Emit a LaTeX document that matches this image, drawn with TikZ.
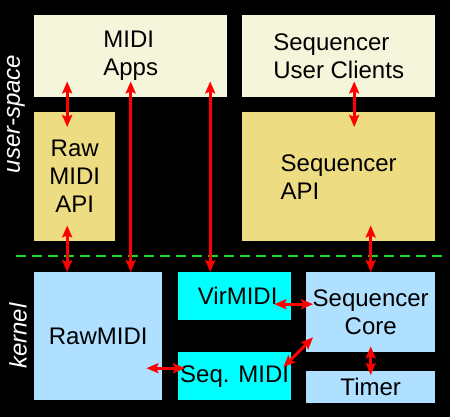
\documentclass[tikz,border=0pt]{standalone}
\usepackage{fontspec}
\setmainfont{Liberation Sans}
\usepackage{tikz}
\usetikzlibrary{arrows.meta}
\usetikzlibrary{positioning}

\definecolor{appcol}{RGB}{245,245,220}
\definecolor{apicol}{RGB}{238,220,130}
\definecolor{kerncol}{RGB}{176,224,255}
\definecolor{virtcol}{RGB}{0,255,255}
\definecolor{bordercol}{RGB}{30,220,30}

\begin{document}
\begin{tikzpicture}[x=1pt,y=-1pt,
                    box node/.style={rectangle,inner sep=0pt,anchor=north west,
                      font=\fontsize{24}{28}\selectfont},
                    link/.style={red,line width=3pt,
                      {Stealth[length=12pt,width=10pt,inset=2pt]}-{Stealth[length=12pt,width=10pt,inset=2pt]}},
                    side label/.style={white,rotate=90,font=\fontsize{24}{28}\selectfont\itshape}]

  \fill[black] (0,0) rectangle (450,417);

  % user-space
  \node[box node,fill=appcol,minimum width=193pt,minimum height=82pt,align=left] (apps) at (34,15) {MIDI\\Apps};
  \node[box node,fill=appcol,minimum width=193pt,minimum height=82pt,align=left] (clients) at (242,15) {Sequencer\\User Clients};
  \node[box node,fill=apicol,minimum width=81pt,minimum height=129pt,align=center] (rawapi) at (34,112) {Raw\\MIDI\\API};
  \node[box node,fill=apicol,minimum width=193pt,minimum height=129pt,align=left] (seqapi) at (242,112) {Sequencer\\API};

  % kernel
  \node[box node,fill=kerncol,minimum width=128pt,minimum height=128pt] (rawmidi) at (34,272) {RawMIDI};
  \node[box node,fill=virtcol,minimum width=113pt,minimum height=48pt] (virmidi) at (178,272) {\hspace{6pt}VirMIDI};
  \node[box node,fill=virtcol,minimum width=113pt,minimum height=48pt] (seqmidi) at (178,352) {Seq. MIDI};
  \node[box node,fill=kerncol,minimum width=129pt,minimum height=80pt,align=center] (core) at (306,272) {Sequencer\\Core};
  \node[box node,fill=kerncol,minimum width=129pt,minimum height=32pt] (timer) at (306,371) {Timer};

  \node[side label] (user) at (16,114) {user-space};
  \node[side label] (kern) at (18,336) {kernel};

  \draw[bordercol,line width=2.7pt,dash pattern=on 10pt off 6pt] (16,256) -- (444,256);

  \draw[link] ([xshift=-7.5pt,yshift=16pt]rawapi.north |- apps.south) -- ([xshift=-7.5pt,yshift=-15pt]rawapi.north);
  \draw[link] ([yshift=16pt]apps.south) -- (apps.south |- rawmidi.north);
  \draw[link] ([xshift=-24.5pt,yshift=16pt]virmidi.north |- apps.south) -- ([xshift=-24.5pt]virmidi.north);
  \draw[link] ([xshift=-7.5pt,yshift=16pt]rawapi.south) -- ([xshift=-7.5pt]rawapi.south |- rawmidi.north);
  \draw[link] ([xshift=15.5pt,yshift=16pt]clients.south) -- ([xshift=15.5pt,yshift=-15pt]seqapi.north);
  \draw[link] ([yshift=16pt]core.north |- seqapi.south) -- (core.north);
  \draw[link] ([xshift=-17pt,yshift=-8pt]virmidi.east) -- ([xshift=7pt,yshift=-8pt]core.west |- virmidi.east);
  \draw[link] ([xshift=-8pt,yshift=9pt]seqmidi.east) -- ([xshift=7pt,yshift=15pt]core.south west);
  \draw[link] ([xshift=-16pt,yshift=8pt]rawmidi.east |- seqmidi.west) -- ([xshift=7pt,yshift=8pt]seqmidi.west);
  \draw[link] ([yshift=6pt]core.south) -- ([yshift=-4pt]timer.north);
\end{tikzpicture}
\end{document}
